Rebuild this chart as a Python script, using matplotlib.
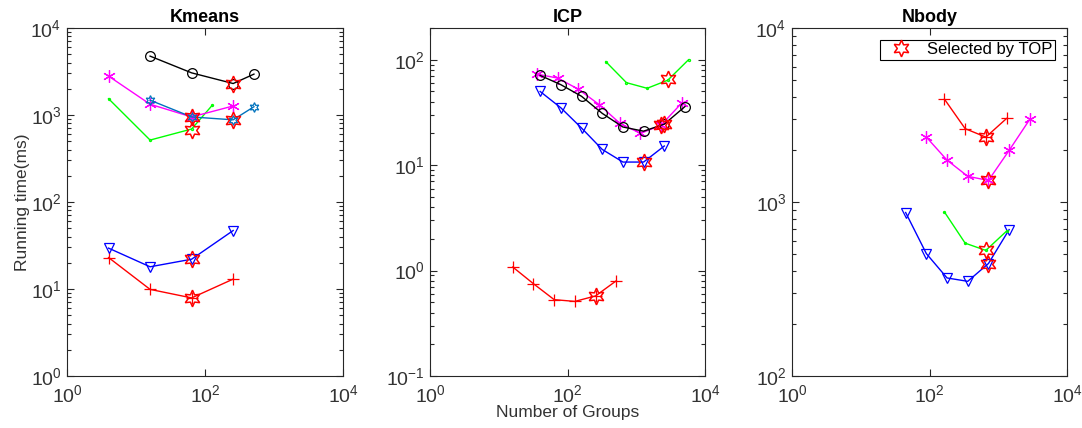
import matplotlib.pyplot as plt
from matplotlib.lines import Line2D

plt.rcParams['font.family'] = ['Liberation Sans', 'DejaVu Sans']
plt.rcParams['mathtext.fontset'] = 'custom'
plt.rcParams['mathtext.rm'] = 'Liberation Sans'
plt.rcParams['mathtext.it'] = 'Liberation Sans:italic'
plt.rcParams['mathtext.bf'] = 'Liberation Sans:bold'

AX_COL = '#262626'

# ---- Kmeans ----
km_red_x = [4, 16, 64, 256]
km_red_y = [23, 9.9, 7.9, 13]
km_blue_x = [4, 16, 64, 256]
km_blue_y = [29.5, 18, 22, 47]
km_green_x = [4, 16, 64, 128]
km_green_y = [1540, 515, 690, 1300]
km_mag_x = [4, 16, 64, 256]
km_mag_y = [2800, 1330, 950, 1270]
km_black_x = [16, 64, 256, 512]
km_black_y = [4750, 3050, 2300, 2950]
km_lblue_x = [16, 64, 256, 512]
km_lblue_y = [1480, 950, 880, 1245]
km_sel_x = [64, 64, 64, 64, 256, 256]
km_sel_y = [7.9, 22, 670, 950, 880, 2300]

# ---- ICP ----
icp_red_x = [16, 32, 64, 128, 256, 512]
icp_red_y = [1.08, 0.75, 0.53, 0.51, 0.575, 0.8]
icp_blue_x = [40, 80, 160, 320, 640, 1280, 2560]
icp_blue_y = [50, 35, 22.5, 14.1, 10.7, 10.7, 15.2]
icp_green_x = [360, 720, 1440, 2880, 5760]
icp_green_y = [96, 60.6, 53.6, 64, 100]
icp_mag_x = [36, 72, 144, 288, 576, 1152, 2304, 4608]
icp_mag_y = [73, 67, 52.5, 37.6, 25, 20, 24, 39]
icp_black_x = [40, 80, 160, 320, 640, 1280, 2560, 5120]
icp_black_y = [71, 58, 45, 31, 23, 21, 24.5, 36]
icp_sel_x = [256, 1280, 2880, 2304, 2560]
icp_sel_y = [0.575, 10.7, 65, 24, 24.5]

# ---- Nbody ----
nb_red_x = [165, 330, 660, 1320]
nb_red_y = [3900, 2640, 2360, 3020]
nb_mag_x = [90, 180, 360, 720, 1440, 2880]
nb_mag_y = [2360, 1740, 1405, 1330, 1980, 2990]
nb_blue_x = [45, 90, 180, 360, 720, 1440]
nb_blue_y = [870, 505, 366, 350, 443, 694]
nb_green_x = [165, 330, 660, 1320]
nb_green_y = [876, 580, 527, 680]
nb_sel_x = [660, 720, 660, 720]
nb_sel_y = [2360, 1330, 527, 443]

asterisk = (6, 2, 0)
hexagram = (6, 1, 0)

fig = plt.figure(figsize=(10.82, 4.28), dpi=100)
ax1 = fig.add_axes([67 / 1082, 52 / 428, 276 / 1082, 348 / 428])
ax2 = fig.add_axes([430 / 1082, 52 / 428, 275 / 1082, 348 / 428])
ax3 = fig.add_axes([792 / 1082, 52 / 428, 275 / 1082, 348 / 428])


def line(ax, x, y, color, marker, ms=7, mew=0.9):
    ax.plot(x, y, color=color, lw=1, marker=marker, ms=ms, mfc='none',
            mec=color, mew=mew)


def selected(ax, x, y):
    ax.plot(x, y, ls='none', marker=hexagram, ms=12, mfc='none', mec='red', mew=1.1)


line(ax1, km_red_x, km_red_y, 'red', '+', ms=9)
line(ax1, km_blue_x, km_blue_y, 'blue', 'v')
line(ax1, km_green_x, km_green_y, '#00ff00', '.', ms=3)
line(ax1, km_mag_x, km_mag_y, 'magenta', asterisk, ms=9)
line(ax1, km_black_x, km_black_y, 'black', 'o')
line(ax1, km_lblue_x, km_lblue_y, '#0072BD', hexagram, ms=7)
selected(ax1, km_sel_x, km_sel_y)

line(ax2, icp_red_x, icp_red_y, 'red', '+', ms=9)
line(ax2, icp_blue_x, icp_blue_y, 'blue', 'v')
line(ax2, icp_green_x, icp_green_y, '#00ff00', '.', ms=3)
line(ax2, icp_mag_x, icp_mag_y, 'magenta', asterisk, ms=9)
line(ax2, icp_black_x, icp_black_y, 'black', 'o')
selected(ax2, icp_sel_x, icp_sel_y)

line(ax3, nb_red_x, nb_red_y, 'red', '+', ms=9)
line(ax3, nb_mag_x, nb_mag_y, 'magenta', asterisk, ms=9)
line(ax3, nb_blue_x, nb_blue_y, 'blue', 'v')
line(ax3, nb_green_x, nb_green_y, '#00ff00', '.', ms=3)
selected(ax3, nb_sel_x, nb_sel_y)

limits = [(1, 1e4), (0.1, 200), (100, 1e4)]
titles = ['Kmeans', 'ICP', 'Nbody']
for ax, ylim, title in zip([ax1, ax2, ax3], limits, titles):
    ax.set_xscale('log')
    ax.set_yscale('log')
    ax.set_xlim(1, 1e4)
    ax.set_ylim(*ylim)
    ax.set_xticks([1, 100, 10000])
    ax.xaxis.set_minor_locator(plt.NullLocator())
    ax.tick_params(which='both', direction='in', top=True, right=True,
                   colors=AX_COL, labelsize=14, width=0.8)
    ax.tick_params(which='major', length=5)
    ax.tick_params(which='minor', length=3)
    ax.tick_params(axis='x', pad=6)
    ax.tick_params(axis='y', pad=4)
    for t in ax.get_xticklabels() + ax.get_yticklabels():
        t.set_color('#333333')
    for s in ax.spines.values():
        s.set_color(AX_COL)
        s.set_linewidth(0.8)
    ax.set_title(title, fontsize=13, fontweight='bold', pad=4)

ax1.set_ylabel('Running time(ms)', fontsize=12.5, color='#333333', labelpad=0)
ax2.set_xlabel('Number of Groups', fontsize=12.5, color='#333333', labelpad=-1)

proxy = Line2D([], [], ls='none', marker=hexagram, ms=12, mfc='none', mec='red', mew=1.1)
leg = ax3.legend([proxy], ['Selected by TOP'], loc='upper right', fontsize=12,
                 fancybox=False, edgecolor='black', framealpha=1,
                 borderaxespad=0.7, handlelength=2.2, handletextpad=0.5,
                 borderpad=0.15)
leg.get_frame().set_linewidth(0.8)

fig.savefig('out.png', dpi=100)
